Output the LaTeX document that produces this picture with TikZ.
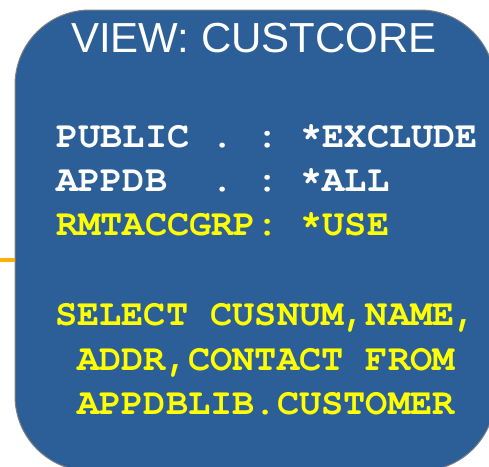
\documentclass[tikz,border=0pt]{standalone}
\usepackage{fontspec}
\setmainfont{Liberation Sans}
\newfontfamily\codefont{TeX Gyre Cursor}
\frenchspacing
\definecolor{boxblue}{HTML}{2C5F97}
\definecolor{boxedge}{HTML}{808080}
\definecolor{codeyellow}{HTML}{FFFF00}
\definecolor{linkorange}{HTML}{FFB000}
\tikzset{
  viewbox/.style={draw=boxedge, line width=1pt, fill=boxblue, rounded corners=75pt,
    minimum width=480pt, minimum height=461pt, inner sep=0pt},
  titletext/.style={text=white, font=\fontsize{42}{50}\selectfont, inner sep=0pt},
  codewhite/.style={text=white, font=\codefont\bfseries\fontsize{37}{44}\selectfont\frenchspacing, inner sep=0pt},
  codeyel/.style={text=codeyellow, font=\codefont\bfseries\fontsize{37}{44}\selectfont\frenchspacing, inner sep=0pt},
  link/.style={draw=linkorange, line width=4pt}
}
\begin{document}
\begin{tikzpicture}[x=1pt,y=-1pt]
\useasboundingbox (0,0) rectangle (489,466);
\clip (0,0) rectangle (489,466);
\node[viewbox] (box) at (255,240.5) {};
\coordinate (linkstart) at (0,260);
\draw[link] (linkstart) -- (box.west |- linkstart);
\node[titletext, anchor=base] (title) at (254,52) {VIEW: CUSTCORE};
\node[codewhite, anchor=base west] (l1) at (56,147) {PUBLIC . : *EXCLUDE};
\node[codewhite, anchor=base west] (l2) at (56,191) {APPDB\ \ . : *ALL};
\node[codeyel, anchor=base west] (l3) at (56,235) {RMTACCGRP: *USE};
\node[codeyel, anchor=base] (s1) at (266,325) {SELECT CUSNUM,NAME,};
\node[codeyel, anchor=base] (s2) at (266,370) {ADDR,CONTACT FROM};
\node[codeyel, anchor=base] (s3) at (266,414) {APPDBLIB.CUSTOMER};
\end{tikzpicture}
\end{document}
